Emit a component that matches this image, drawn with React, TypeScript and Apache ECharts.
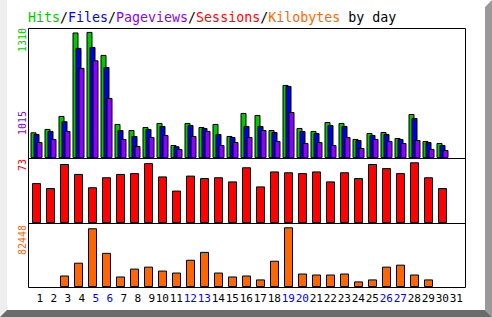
import React, { useEffect, useRef } from 'react';
import * as echarts from 'echarts';

const days = ['1','2','3','4','5','6','7','8','9','10','11','12','13','14','15','16','17','18','19','20','21','22','23','24','25','26','27','28','29','30','31'];
const weekendDays = ['5','6','12','13','19','20','26','27'];

const hits = [267, 302, 437, 1304, 1310, 1071, 354, 291, 322, 364, 135, 364, 322, 354, 229, 468, 447, 291, 759, 312, 281, 374, 364, 198, 260, 270, 208, 457, 177, 156, 0];
const files = [250, 281, 382, 1144, 1154, 946, 291, 229, 302, 333, 122, 343, 312, 250, 218, 333, 333, 270, 749, 281, 260, 343, 333, 187, 239, 250, 198, 416, 166, 135, 0];
const pageviews = [166, 198, 281, 936, 1015, 624, 198, 125, 218, 239, 94, 229, 281, 135, 166, 218, 291, 177, 478, 156, 166, 135, 218, 104, 198, 177, 156, 187, 94, 83, 0];
const sessions = [48, 42, 71, 59, 43, 55, 59, 60, 72, 56, 39, 57, 54, 55, 50, 67, 44, 62, 61, 60, 62, 50, 61, 54, 71, 66, 60, 73, 55, 42, 0];
const kilobytes = [0, 0, 15892, 33550, 81090, 47133, 14534, 25400, 28117, 22684, 19967, 37625, 48491, 19967, 14534, 15892, 10459, 36267, 82448, 18609, 17250, 17250, 18609, 7742, 10459, 28117, 30834, 17250, 10459, 0, 0];

const FONT = '"DejaVu Sans Mono", "Liberation Mono", monospace';
const GREEN = '#00c800';
const BLUE = '#0000ff';
const BLUE_BAR = '#0000e6';
const PURPLE = '#8c00ff';
const RED = '#ff0000';
const ORANGE = '#ff6600';

const nz = (arr: number[]) => arr.map((v) => (v ? v : null));

export default function App() {
  const ref = useRef<HTMLDivElement>(null);
  useEffect(() => {
    if (!ref.current) return;
    const chart = echarts.init(ref.current, null, { renderer: 'svg' });
    const hitsMax = Math.max(...hits);
    const pvMax = Math.max(...pageviews);
    const sesMax = Math.max(...sessions);
    const kbMax = Math.max(...kilobytes);
    const gridCommon = { left: 29.5, width: 434, containLabel: false, show: false };
    const border = { borderColor: '#000', borderWidth: 1 };
    const TS = 13.3;
    const rich = (c: string) => ({ color: c, fontFamily: FONT, fontSize: TS });
    const option: any = {
      animation: false,
      backgroundColor: '#ffffff',
      title: {
        left: 28,
        top: 11,
        padding: 0,
        text: '{g|Hits}{k|/}{b|Files}{k|/}{p|Pageviews}{k|/}{r|Sessions}{k|/}{o|Kilobytes}{k| by day}',
        textStyle: {
          fontFamily: FONT,
          fontSize: TS,
          fontWeight: 'normal',
          rich: { g: rich(GREEN), b: rich(BLUE), p: rich(PURPLE), r: rich(RED), o: rich(ORANGE), k: rich('#000') },
        },
      },
      grid: [
        { ...gridCommon, top: 28, height: 130 },
        { ...gridCommon, top: 158, height: 65 },
        { ...gridCommon, top: 223, height: 64 },
      ],
      xAxis: [0, 1, 2].map((i) => ({
        type: 'category',
        gridIndex: i,
        data: days,
        axisLine: { show: false },
        axisTick: { show: false },
        splitLine: { show: false },
        axisLabel:
          i === 2
            ? {
                show: true,
                interval: 0,
                margin: 6,
                formatter: (v: string) => `{${weekendDays.includes(v) ? 'w' : 'd'}|${v}}`,
                rich: {
                  d: { width: 13, align: 'right', color: '#000', fontFamily: FONT, fontSize: 11 },
                  w: { width: 13, align: 'right', color: BLUE, fontFamily: FONT, fontSize: 11 },
                },
              }
            : { show: false },
      })),
      yAxis: [
        { type: 'value', gridIndex: 0, min: 0, max: hitsMax / 0.97, show: false, splitLine: { show: false } },
        { type: 'value', gridIndex: 1, min: 0, max: sesMax / 0.934, show: false, splitLine: { show: false } },
        { type: 'value', gridIndex: 2, min: 0, max: kbMax / 0.933, show: false, splitLine: { show: false } },
      ],
      series: [
        { name: 'Hits', type: 'bar', xAxisIndex: 0, yAxisIndex: 0, data: nz(hits), barWidth: 6, barGap: '-50%', itemStyle: { color: GREEN, ...border } },
        { name: 'Files', type: 'bar', xAxisIndex: 0, yAxisIndex: 0, data: nz(files), barWidth: 6, barGap: '-50%', itemStyle: { color: BLUE_BAR, ...border } },
        { name: 'Pageviews', type: 'bar', xAxisIndex: 0, yAxisIndex: 0, data: nz(pageviews), barWidth: 6, barGap: '-50%', itemStyle: { color: PURPLE, ...border } },
        { name: 'Sessions', type: 'bar', xAxisIndex: 1, yAxisIndex: 1, data: nz(sessions), barWidth: 9, itemStyle: { color: RED, ...border } },
        { name: 'Kilobytes', type: 'bar', xAxisIndex: 2, yAxisIndex: 2, data: nz(kilobytes), barWidth: 9, itemStyle: { color: ORANGE, ...border } },
      ],
      graphic: [
        { type: 'polygon', z: -10, shape: { points: [[0, 0], [7, 0], [7, 310], [0, 317]] }, style: { fill: '#eeeeee' } },
        { type: 'polygon', z: -10, shape: { points: [[485, 7], [492, 0], [492, 317], [485, 310]] }, style: { fill: '#999999' } },
        { type: 'polygon', z: -10, shape: { points: [[0, 317], [7, 310], [485, 310], [492, 317]] }, style: { fill: '#6b6b6b' } },
        { type: 'rect', z: 10, shape: { x: 28.5, y: 28.5, width: 437, height: 259 }, style: { fill: 'none', stroke: '#000', lineWidth: 1 } },
        { type: 'line', z: 10, shape: { x1: 28.5, y1: 158.5, x2: 465.5, y2: 158.5 }, style: { stroke: '#000', lineWidth: 1 } },
        { type: 'line', z: 10, shape: { x1: 28.5, y1: 223.5, x2: 465.5, y2: 223.5 }, style: { stroke: '#000', lineWidth: 1 } },
        { type: 'text', x: 22.5, y: 28, rotation: Math.PI / 2, style: { text: String(hitsMax), fill: GREEN, font: `10px ${FONT}`, align: 'right', verticalAlign: 'middle' } },
        { type: 'text', x: 22.5, y: 111, rotation: Math.PI / 2, style: { text: String(pvMax), fill: PURPLE, font: `10px ${FONT}`, align: 'right', verticalAlign: 'middle' } },
        { type: 'text', x: 22.5, y: 159, rotation: Math.PI / 2, style: { text: String(sesMax), fill: RED, font: `10px ${FONT}`, align: 'right', verticalAlign: 'middle' } },
        { type: 'text', x: 22.5, y: 225, rotation: Math.PI / 2, style: { text: String(kbMax), fill: ORANGE, font: `10px ${FONT}`, align: 'right', verticalAlign: 'middle' } },
      ],
    };
    chart.setOption(option);
    return () => chart.dispose();
  }, []);
  return <div ref={ref} style={{ position: 'absolute', left: 0, top: 0, width: 492, height: 317 }} />;
}
